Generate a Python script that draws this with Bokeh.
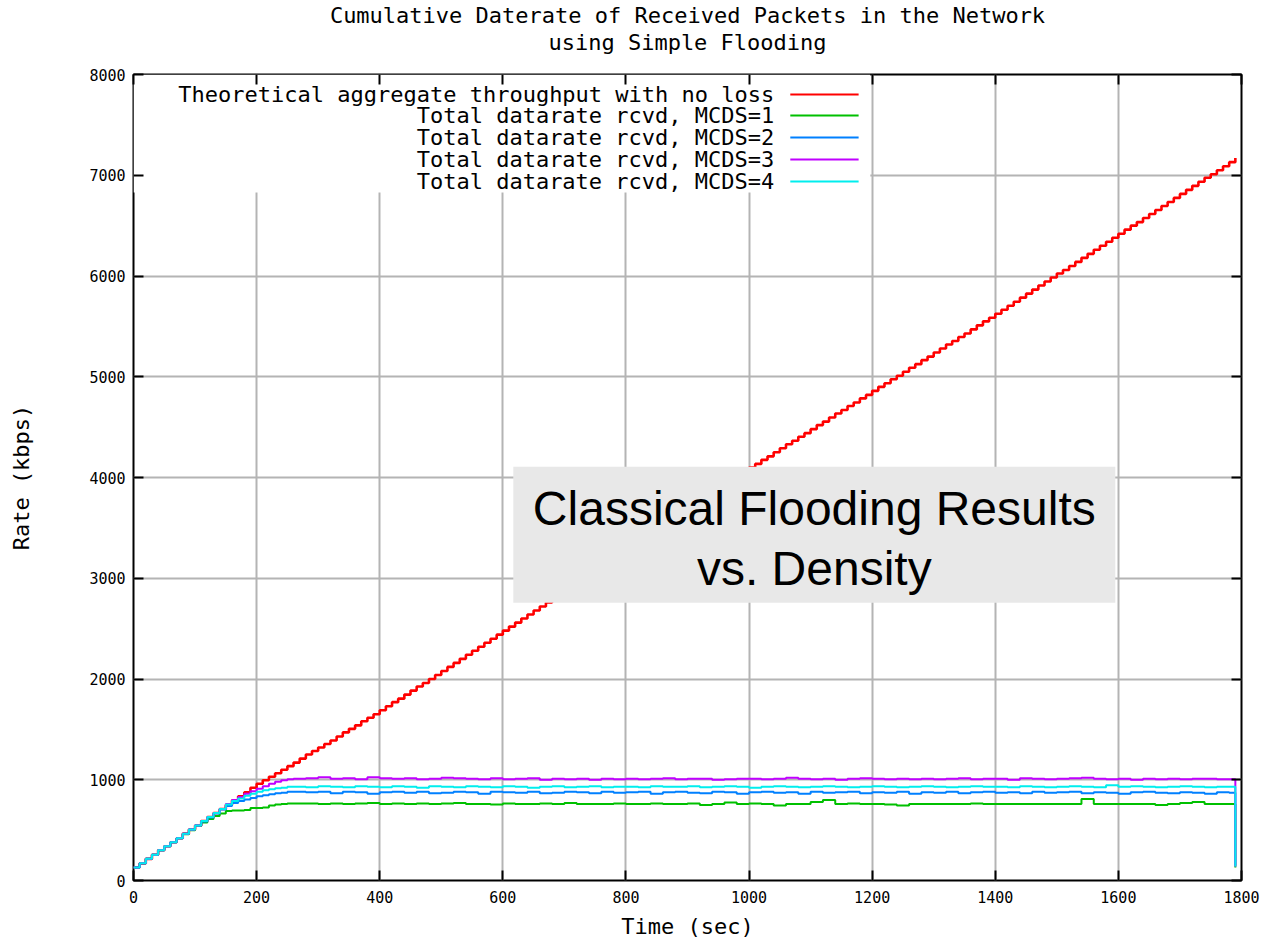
from bokeh.plotting import figure
from bokeh.models import LinearAxis, Title, Label, BoxAnnotation, Arrow, Range1d, FixedTicker
from bokeh.embed import file_html
from bokeh.resources import INLINE

# ---------------- data ----------------
# theoretical curve, read every 10 s
time_red = list(range(0, 1800, 10))
theoretical = [
    130, 170, 215, 255, 300, 340, 380, 420, 465, 505,
    545, 590, 630, 670, 710, 750, 795, 835, 875, 920,
    960, 995, 1030, 1065, 1100, 1135, 1170, 1210, 1250, 1285,
    1320, 1355, 1390, 1430, 1470, 1505, 1540, 1580, 1615, 1650,
    1690, 1730, 1770, 1805, 1845, 1885, 1925, 1960, 2000, 2040,
    2080, 2120, 2160, 2200, 2240, 2280, 2320, 2360, 2400, 2440,
    2480, 2520, 2560, 2600, 2640, 2680, 2720, 2760, 2800, 2840,
    2880, 2920, 2960, 3005, 3045, 3085, 3125, 3165, 3205, 3245,
    3285, 3325, 3365, 3405, 3445, 3490, 3530, 3570, 3610, 3650,
    3690, 3730, 3775, 3815, 3855, 3895, 3935, 3980, 4020, 4060,
    4100, 4135, 4175, 4210, 4250, 4290, 4330, 4365, 4405, 4440,
    4480, 4520, 4555, 4595, 4635, 4670, 4710, 4745, 4785, 4820,
    4860, 4900, 4935, 4975, 5010, 5050, 5090, 5125, 5165, 5200,
    5240, 5280, 5320, 5355, 5395, 5430, 5470, 5510, 5550, 5585,
    5625, 5665, 5705, 5745, 5785, 5825, 5865, 5905, 5945, 5985,
    6025, 6060, 6100, 6140, 6180, 6220, 6260, 6300, 6340, 6380,
    6420, 6460, 6500, 6535, 6575, 6615, 6655, 6695, 6735, 6775,
    6815, 6855, 6895, 6935, 6975, 7010, 7050, 7090, 7130, 7170,
]

# received-rate curves: read every 10 s on the ramp, every 20 s afterwards
time_mcds = list(range(0, 260, 10)) + list(range(260, 1800, 20)) + [1790]

mcds1 = [
    130, 170, 215, 255, 300, 340, 380, 420, 460, 500,
    540, 575, 610, 640, 665, 690, 695, 695, 700, 720,
    720, 725, 745, 755, 760, 765,
    765, 765, 760, 765, 760, 765, 770,
    760, 765, 760, 765, 760, 765, 770, 760, 760, 755,
    765, 760, 760, 765, 760, 770, 760, 760, 760, 765,
    760, 760, 765, 760, 760, 765, 750, 760, 775, 760,
    765, 760, 745, 760, 760, 780, 800, 760, 765, 760,
    760, 755, 745, 760, 760, 760, 760, 760, 765, 760,
    760, 760, 760, 760, 760, 760, 760, 810, 760, 760,
    760, 760, 760, 750, 760, 770, 780, 760, 760, 760,
    130,
]

mcds2 = [
    130, 170, 215, 255, 300, 340, 380, 420, 465, 505,
    545, 585, 625, 665, 705, 740, 770, 790, 805, 820,
    835, 845, 855, 865, 870, 880,
    880, 875, 880, 865, 880, 875, 860,
    875, 880, 870, 880, 865, 870, 880, 875, 860, 880,
    875, 870, 880, 865, 870, 880, 875, 865, 880, 870,
    875, 880, 860, 875, 880, 870, 865, 880, 875, 860,
    875, 880, 870, 875, 860, 880, 870, 875, 880, 865,
    875, 870, 880, 860, 875, 870, 880, 865, 875, 880,
    870, 875, 865, 880, 870, 875, 880, 865, 875, 870,
    860, 875, 880, 870, 865, 875, 870, 860, 875, 870,
    150,
]

mcds3 = [
    130, 170, 215, 255, 300, 340, 380, 420, 465, 505,
    545, 590, 630, 670, 710, 760, 800, 830, 860, 885,
    910, 935, 960, 980, 995, 1005,
    1010, 1015, 1025, 1010, 1015, 1005, 1025,
    1015, 1010, 1015, 1005, 1010, 1020, 1015, 1010, 1005, 1015,
    1005, 1010, 1015, 1000, 1010, 1005, 1010, 1000, 1010, 1005,
    1010, 1005, 1010, 1015, 1005, 1010, 1010, 1000, 1005, 1010,
    1010, 1005, 1010, 1020, 1010, 1005, 1010, 1000, 1010, 1015,
    1010, 1005, 1010, 1005, 1010, 1005, 1010, 1015, 1005, 1010,
    1010, 1000, 1015, 1010, 1005, 1010, 1015, 1020, 1010, 1005,
    1010, 1000, 1010, 1005, 1010, 1005, 1010, 1010, 1005, 1005,
    140,
]

mcds4 = [
    130, 170, 215, 255, 300, 340, 380, 420, 465, 505,
    545, 590, 630, 670, 710, 755, 790, 815, 840, 860,
    880, 895, 905, 915, 920, 930,
    930, 925, 935, 930, 925, 935, 930,
    925, 935, 930, 920, 935, 930, 925, 935, 930, 925,
    935, 930, 920, 930, 935, 925, 930, 935, 925, 930,
    930, 925, 935, 930, 930, 935, 925, 930, 935, 930,
    920, 930, 935, 930, 925, 930, 935, 930, 925, 930,
    935, 930, 925, 930, 935, 930, 925, 930, 935, 930,
    930, 925, 935, 930, 925, 930, 935, 930, 925, 945,
    930, 935, 930, 925, 930, 935, 930, 925, 930, 930,
    140,
]

series_names = [
    "Theoretical aggregate throughput with no loss",
    "Total datarate rcvd, MCDS=1",
    "Total datarate rcvd, MCDS=2",
    "Total datarate rcvd, MCDS=3",
    "Total datarate rcvd, MCDS=4",
]
series_times = [time_red, time_mcds, time_mcds, time_mcds, time_mcds]
series_values = [theoretical, mcds1, mcds2, mcds3, mcds4]
series_colors = ["#ff0000", "#00c000", "#0080ff", "#c000ff", "#00eeee"]
series_widths = [2.6, 2, 2, 2, 2]

x_ticks = [0, 200, 400, 600, 800, 1000, 1200, 1400, 1600, 1800]
y_ticks = [0, 1000, 2000, 3000, 4000, 5000, 6000, 7000, 8000]

title_lines = ["Cumulative Daterate of Received Packets in the Network",
               "using Simple Flooding"]
note_lines = ["Classical Flooding Results", "vs. Density"]

MONO = "DejaVu Sans Mono"

# ---------------- figure ----------------
p = figure(
    width=1280, height=944,
    x_range=Range1d(0, 1800), y_range=Range1d(0, 8000),
    output_backend="svg", toolbar_location=None,
    min_border_left=133, min_border_right=39,
    min_border_top=74, min_border_bottom=64,
    x_axis_label="Time (sec)", y_axis_label="Rate (kbps)",
    background_fill_color="white", border_fill_color="white",
)
p.outline_line_color = "black"
p.outline_line_width = 2

for ax in (p.xaxis[0], p.yaxis[0]):
    ax.major_tick_in = 10
    ax.major_tick_out = 0
    ax.minor_tick_line_color = None
    ax.axis_line_color = None
    ax.major_tick_line_color = "black"
    ax.major_tick_line_width = 2
    ax.major_label_text_font = MONO
    ax.major_label_text_font_size = "15px"
    ax.major_label_text_color = "black"
    ax.axis_label_text_font = MONO
    ax.axis_label_text_font_size = "22px"
    ax.axis_label_text_font_style = "normal"
    ax.axis_label_text_color = "black"

p.xaxis[0].ticker = FixedTicker(ticks=x_ticks)
p.yaxis[0].ticker = FixedTicker(ticks=y_ticks)
p.xaxis[0].major_label_standoff = 10
p.xaxis[0].axis_label_standoff = 8
p.yaxis[0].major_label_standoff = 8
p.yaxis[0].axis_label_standoff = 52

p.xgrid.ticker = FixedTicker(ticks=x_ticks)
p.ygrid.ticker = FixedTicker(ticks=y_ticks)
for g in (p.xgrid[0], p.ygrid[0]):
    g.grid_line_color = "#b4b4b4"
    g.grid_line_width = 2

# mirror axes (ticks only, no labels) on top and right
top_ax = LinearAxis(ticker=FixedTicker(ticks=x_ticks), major_tick_in=10, major_tick_out=0,
                    minor_tick_line_color=None, axis_line_color=None,
                    major_tick_line_width=2, major_label_standoff=0,
                    major_label_overrides={t: "" for t in x_ticks})
right_ax = LinearAxis(ticker=FixedTicker(ticks=y_ticks), major_tick_in=10, major_tick_out=0,
                      minor_tick_line_color=None, axis_line_color=None,
                      major_tick_line_width=2, major_label_standoff=0,
                      major_label_overrides={t: "" for t in y_ticks})
p.add_layout(top_ax, "above")
p.add_layout(right_ax, "right")

# invisible spacer between frame and title (invisible outward ticks only)
spacer_ax = LinearAxis(ticker=FixedTicker(ticks=x_ticks), major_tick_in=0, major_tick_out=20,
                       major_tick_line_color=None, minor_tick_line_color=None,
                       axis_line_color=None, major_label_standoff=0,
                       major_label_overrides={t: "" for t in x_ticks})
p.add_layout(spacer_ax, "above")

# two-line title, each line centred (closest line first)
for txt in reversed(title_lines):
    p.add_layout(Title(text=txt, align="center", text_font=MONO, text_font_size="22px",
                       text_font_style="normal", text_color="black",
                       text_line_height=0.85, standoff=0), "above")

# white key background (hides grid under the key)
p.add_layout(BoxAnnotation(left=0, right=1197, bottom=6829, top=8000,
                           fill_color="white", fill_alpha=1, line_color=None,
                           level="underlay"))

# data lines
for tt, vals, col, w in zip(series_times, series_values, series_colors, series_widths):
    p.step(tt, vals, mode="after", line_color=col, line_width=w)

# key: text right-aligned, sample line to the right
legend_text_x = 1041
legend_line_x0, legend_line_x1 = 1067, 1178
legend_rows_y = [7801, 7593, 7375, 7156, 6938]
for name, col, yy in zip(series_names, series_colors, legend_rows_y):
    p.add_layout(Label(x=legend_text_x, y=yy, text=name, text_align="right",
                       text_baseline="middle", text_font=MONO, text_font_size="22px",
                       text_color="black"))
    p.add_layout(Arrow(end=None, x_start=legend_line_x0, y_start=yy, x_end=legend_line_x1,
                       y_end=yy, line_color=col, line_width=2))

# gray annotation box
p.add_layout(BoxAnnotation(left=617, right=1595, bottom=2758, top=4107,
                           fill_color="#e8e8e8", fill_alpha=1, line_color=None))
for txt, yy in zip(note_lines, [3692, 3097]):
    p.add_layout(Label(x=1106, y=yy, text=txt, text_align="center",
                       text_baseline="middle", text_font="Liberation Sans",
                       text_font_size="48px", text_color="black"))

open("out.html", "w").write(file_html(p, INLINE))
